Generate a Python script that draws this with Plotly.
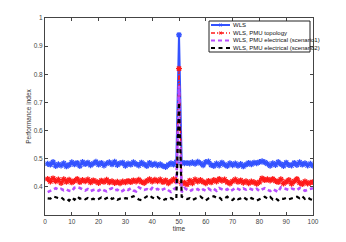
import plotly.graph_objects as go

time = list(range(1, 101))

wls = [0.482, 0.479, 0.488, 0.474, 0.480, 0.476, 0.484, 0.473, 0.478, 0.487,
       0.480, 0.485, 0.474, 0.488, 0.481, 0.486, 0.477, 0.483, 0.489, 0.479,
       0.485, 0.476, 0.483, 0.487, 0.480, 0.489, 0.478, 0.484, 0.486, 0.475,
       0.483, 0.479, 0.487, 0.481, 0.476, 0.486, 0.480, 0.474, 0.485, 0.478,
       0.482, 0.476, 0.480, 0.474, 0.471, 0.478, 0.484, 0.479, 0.488, 0.940,
       0.486, 0.484, 0.485, 0.483, 0.487, 0.482, 0.489, 0.484, 0.477, 0.488,
       0.490, 0.478, 0.474, 0.483, 0.476, 0.486, 0.479, 0.474, 0.484, 0.477,
       0.483, 0.475, 0.481, 0.473, 0.479, 0.485, 0.480, 0.486, 0.484, 0.488,
       0.491, 0.487, 0.482, 0.475, 0.484, 0.478, 0.488, 0.481, 0.474, 0.486,
       0.478, 0.476, 0.485, 0.478, 0.487, 0.479, 0.484, 0.476, 0.482, 0.475]

pmu_topology = [0.428, 0.419, 0.430, 0.420, 0.426, 0.414, 0.427, 0.418, 0.425, 0.416,
                0.421, 0.428, 0.417, 0.424, 0.420, 0.426, 0.416, 0.423, 0.419, 0.414,
                0.422, 0.418, 0.425, 0.416, 0.420, 0.414, 0.418, 0.413, 0.419, 0.416,
                0.421, 0.417, 0.423, 0.419, 0.425, 0.418, 0.414, 0.421, 0.427, 0.419,
                0.425, 0.420, 0.426, 0.417, 0.423, 0.413, 0.420, 0.427, 0.421, 0.820,
                0.412, 0.415, 0.409, 0.422, 0.413, 0.426, 0.419, 0.424, 0.418, 0.413,
                0.421, 0.416, 0.424, 0.419, 0.428, 0.422, 0.426, 0.417, 0.412, 0.420,
                0.426, 0.418, 0.423, 0.415, 0.420, 0.413, 0.419, 0.416, 0.411, 0.417,
                0.430, 0.424, 0.427, 0.423, 0.428, 0.421, 0.417, 0.427, 0.412, 0.418,
                0.424, 0.411, 0.420, 0.428, 0.415, 0.410, 0.419, 0.412, 0.415, 0.417]

pmu_scenario1 = [0.381, 0.386, 0.392, 0.395, 0.390, 0.393, 0.388, 0.391, 0.386, 0.384,
                 0.397, 0.399, 0.396, 0.390, 0.387, 0.392, 0.385, 0.389, 0.391, 0.386,
                 0.393, 0.388, 0.384, 0.391, 0.395, 0.387, 0.390, 0.382, 0.386, 0.393,
                 0.389, 0.395, 0.387, 0.384, 0.398, 0.393, 0.389, 0.392, 0.386, 0.396,
                 0.390, 0.393, 0.386, 0.391, 0.395, 0.388, 0.382, 0.391, 0.397, 0.760,
                 0.381, 0.396, 0.389, 0.384, 0.390, 0.387, 0.392, 0.385, 0.391, 0.386,
                 0.394, 0.388, 0.393, 0.386, 0.396, 0.390, 0.387, 0.392, 0.384, 0.389,
                 0.397, 0.393, 0.388, 0.394, 0.390, 0.395, 0.391, 0.388, 0.393, 0.385,
                 0.391, 0.395, 0.390, 0.385, 0.392, 0.388, 0.382, 0.398, 0.395, 0.392,
                 0.389, 0.394, 0.391, 0.388, 0.396, 0.392, 0.386, 0.390, 0.393, 0.395]

pmu_scenario2 = [0.359, 0.358, 0.366, 0.364, 0.360, 0.363, 0.355, 0.359, 0.351, 0.362,
                 0.354, 0.366, 0.358, 0.361, 0.356, 0.360, 0.354, 0.358, 0.353, 0.357,
                 0.362, 0.355, 0.359, 0.365, 0.357, 0.361, 0.354, 0.358, 0.356, 0.360,
                 0.358, 0.363, 0.367, 0.361, 0.355, 0.353, 0.360, 0.366, 0.370, 0.362,
                 0.358, 0.364, 0.356, 0.352, 0.357, 0.354, 0.360, 0.355, 0.358, 0.700,
                 0.365, 0.362, 0.357, 0.360, 0.353, 0.358, 0.362, 0.366, 0.358, 0.352,
                 0.359, 0.364, 0.367, 0.361, 0.363, 0.354, 0.359, 0.365, 0.357, 0.353,
                 0.362, 0.356, 0.359, 0.364, 0.357, 0.352, 0.360, 0.355, 0.351, 0.356,
                 0.360, 0.365, 0.358, 0.364, 0.355, 0.360, 0.352, 0.359, 0.357, 0.361,
                 0.356, 0.359, 0.362, 0.365, 0.360, 0.367, 0.357, 0.362, 0.356, 0.353]

series_names = ["WLS", "WLS, PMU topology",
                "WLS, PMU electrical (scenario1)", "WLS, PMU electrical (scenario2)"]

x_ticks = [0, 10, 20, 30, 40, 50, 60, 70, 80, 90, 100]
y_ticks = [0.4, 0.5, 0.6, 0.7, 0.8, 0.9, 1.0]
y_tick_text = ["0.4", "0.5", "0.6", "0.7", "0.8", "0.9", "1"]

BLUE = "#3352ff"
RED = "#ff1a1a"
PURPLE = "#b84dff"
BLACK = "#000000"

styles = [
    dict(color=BLUE, dash="solid", width=2, marker=True),
    dict(color=RED, dash="4px,2px,1px,2px", width=1.5, marker=True),
    dict(color=PURPLE, dash="4px,3px", width=2.6, marker=False),
    dict(color=BLACK, dash="4px,3.5px", width=2.2, marker=False),
]

fig = go.Figure()
for name, ys, st in zip(series_names, [wls, pmu_topology, pmu_scenario1, pmu_scenario2], styles):
    fig.add_trace(go.Scatter(
        x=time, y=ys, name=name,
        mode="lines+markers" if st["marker"] else "lines",
        line=dict(color=st["color"], dash=st["dash"], width=st["width"]),
        marker=dict(symbol="asterisk-open", size=5, color=st["color"],
                    line=dict(color=st["color"], width=1.3)),
        showlegend=False,
    ))

# page body has an 8px default margin; compensate so the plot area lands at x 45..313, y 18..215
OFF = 8
W, H = 346 - OFF, 242 - OFF
L, R, T, B = 45 - OFF, 33, 18 - OFF, 27
pw, ph = W - L - R, H - T - B

def px2paper(px, py):
    # px, py in window pixels
    return (px - OFF - L) / pw, (OFF + H - B - py) / ph

font = "Liberation Sans, Arial, sans-serif"

shapes = []
annotations = []
# legend box
x0, y0 = px2paper(209, 52)
x1, y1 = px2paper(310, 21)
shapes.append(dict(type="rect", xref="paper", yref="paper", x0=x0, y0=y0, x1=x1, y1=y1,
                   line=dict(color="#222", width=1), fillcolor="white", layer="above"))
rows = [25, 33, 40.5, 48]
for name, st, ry in zip(series_names, styles, rows):
    ax0, ay = px2paper(211, ry)
    ax1, _ = px2paper(230, ry)
    shapes.append(dict(type="line", xref="paper", yref="paper", x0=ax0, y0=ay, x1=ax1, y1=ay,
                       line=dict(color=st["color"], dash=st["dash"], width=min(st["width"], 2)),
                       layer="above"))
    if st["marker"]:
        for dx, dy in [(1.8, 0), (0.9, 1.5), (0.9, -1.5)]:
            sx0, sy0 = px2paper(220.5 - dx, ry - dy)
            sx1, sy1 = px2paper(220.5 + dx, ry + dy)
            shapes.append(dict(type="line", xref="paper", yref="paper", x0=sx0, y0=sy0, x1=sx1, y1=sy1,
                               line=dict(color=st["color"], width=1), layer="above"))
    tx, _ = px2paper(231, ry)
    annotations.append(dict(xref="paper", yref="paper", x=tx, y=ay, text=name, showarrow=False,
                            xanchor="left", yanchor="middle",
                            font=dict(size=6, color="#111", family=font)))

axis_common = dict(showline=True, linecolor="#444", linewidth=1, mirror="ticks",
                   ticks="inside", ticklen=3, tickcolor="#444", showgrid=False, zeroline=False,
                   automargin=False,
                   tickfont=dict(size=6.5, color="#444", family=font))

fig.update_layout(
    width=W, height=H,
    margin=dict(l=L, r=R, t=T, b=B, autoexpand=False),
    paper_bgcolor="white", plot_bgcolor="white",
    showlegend=False,
    shapes=shapes, annotations=annotations,
    xaxis=dict(range=[0, 100], tickvals=x_ticks,
               title=dict(text="time", font=dict(size=6.5, color="#333", family=font), standoff=2),
               **axis_common),
    yaxis=dict(range=[0.3, 1.0], tickvals=y_ticks, ticktext=y_tick_text,
               title=dict(text="Performance index", font=dict(size=6.5, color="#333", family=font), standoff=1),
               **axis_common),
)

fig.write_html("out.html")
